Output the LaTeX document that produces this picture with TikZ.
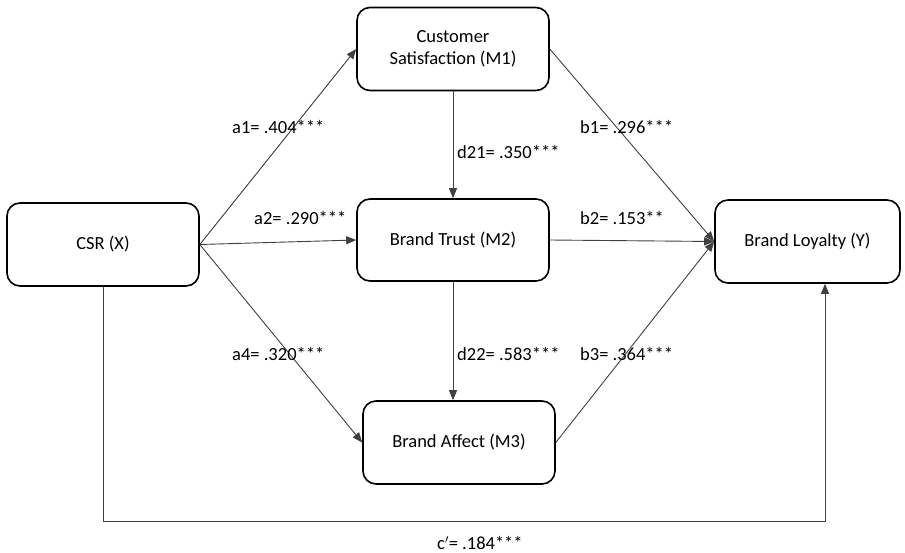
\documentclass[tikz,border=0pt]{standalone}
\usepackage{fontspec}
\setmainfont{Carlito}
\usepackage{tikz}
\usetikzlibrary{arrows.meta}

\tikzset{
  box/.style={draw=black, line width=1.6pt, rounded corners=13pt, align=center,
    minimum width=192pt, minimum height=83pt, inner sep=0pt,
    font=\fontsize{18.5}{22}\selectfont},
  path/.style={draw=black!75, line width=0.9pt, -{Triangle[length=10pt,width=8pt]}},
  coef/.style={anchor=west, inner sep=0pt, font=\fontsize{18.5}{22}\selectfont}
}

\begin{document}
\begin{tikzpicture}[x=1pt, y=-1pt]
\useasboundingbox (0,0) rectangle (905,553);
\node[box] (csr) at (103,244.5) {CSR (X)};
\node[box] (cs) at (453,49) {Customer\\Satisfaction (M1)};
\node[box, minimum height=82pt] (bt) at (453,240) {Brand Trust (M2)};
\node[box] (ba) at (459,442.5) {Brand Affect (M3)};
\node[box, minimum width=185pt] (bl) at (807.5,241.5) {Brand Loyalty (Y)};
\coordinate (cbot) at (825,521);
\draw[path] (csr.east) -- (cs.west);
\draw[path] (csr.east) -- (bt.west);
\draw[path] (csr.east) -- (ba.west);
\draw[path] (cs.south) -- (bt.north);
\draw[path] (bt.south) -- (ba.north -| bt.south);
\draw[path] (cs.east) -- (bl.west);
\draw[path] (bt.east) -- (bl.west);
\draw[path] (ba.east) -- (bl.west);
\draw[path] (csr.south) |- (cbot) -- (bl.south -| cbot);
\node[coef] (a1) at (232,127) {a1= .404***};
\node[coef] (a2) at (254,218) {a2= .290***};
\node[coef] (a4) at (232,354) {a4= .320***};
\node[coef] (d21) at (457,152) {d21= .350***};
\node[coef] (d22) at (457,354) {d22= .583***};
\node[coef] (b1) at (580,127) {b1= .296***};
\node[coef] (b2) at (580,218) {b2= .153**};
\node[coef] (b3) at (580,354) {b3= .364***};
\node[coef] (c) at (437,543) {c$'$= .184***};
\end{tikzpicture}
\end{document}
